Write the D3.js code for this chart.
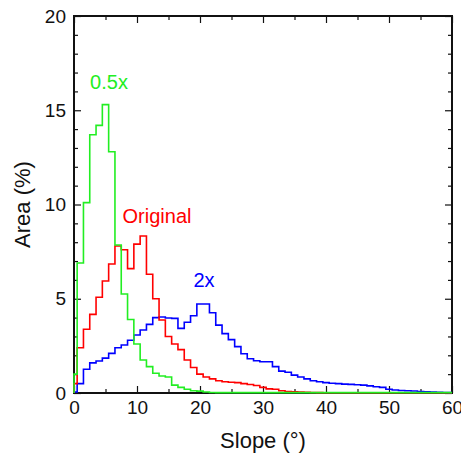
<!DOCTYPE html>
<html>
<head>
<meta charset="utf-8">
<script src="https://cdn.jsdelivr.net/npm/d3@7"></script>
<style>
  body { margin: 0; background: #fff; }
  svg text { font-family: "Liberation Sans", Arial, sans-serif; fill: #111; }
</style>
</head>
<body>
<div id="chart"></div>
<script>
// slope histogram, 1 degree bins centred on 0..60
const slopes = d3.range(0, 61);

const half = [1.0, 6.9, 10.1, 13.7, 14.2, 15.3, 12.8, 7.85, 5.25, 3.9,
  2.6, 1.75, 1.4, 1.05, 0.9, 0.85, 0.42, 0.3, 0.2, 0.12,
  0.1, 0.05, 0.03, 0.02, 0.02, 0.02, 0.02, 0.02, 0.02, 0.02,
  0.02, 0.02, 0.02, 0.02, 0.02, 0.02, 0.02, 0.02, 0.02, 0.02,
  0.02, 0.02, 0.02, 0.02, 0.02, 0.02, 0.02, 0.02, 0.02, 0.02,
  0.02, 0.02, 0.02, 0.02, 0.02, 0.02, 0.02, 0.02, 0.02, 0.02, 0.02];

const original = [0.5, 2.4, 3.38, 4.17, 5.08, 5.94, 6.84, 7.8, 7.6, 6.6,
  7.9, 8.33, 6.3, 5.0, 3.87, 3.0, 2.6, 2.3, 1.75, 1.35,
  1.0, 0.85, 0.75, 0.65, 0.6, 0.57, 0.55, 0.5, 0.45, 0.4,
  0.3, 0.22, 0.2, 0.12, 0.08, 0.06, 0.05, 0.04, 0.03, 0.02,
  0.01, 0.01, 0.01, 0.01, 0.01, 0.01, 0.01, 0.01, 0.01, 0.01,
  0.01, 0.01, 0.01, 0.01, 0.01, 0.01, 0.01, 0.01, 0.01, 0.01, 0.01];

const double = [0.05, 0.5, 1.26, 1.6, 1.7, 1.85, 2.1, 2.4, 2.55, 2.8,
  3.08, 3.34, 3.64, 4.0, 4.03, 3.98, 3.96, 3.43, 3.75, 4.1,
  4.72, 4.72, 4.26, 3.6, 3.15, 2.83, 2.46, 2.08, 1.82, 1.71,
  1.66, 1.66, 1.4, 1.16, 1.1, 0.95, 0.85, 0.75, 0.65, 0.6,
  0.55, 0.52, 0.5, 0.47, 0.46, 0.44, 0.42, 0.38, 0.33, 0.3,
  0.2, 0.16, 0.13, 0.12, 0.11, 0.08, 0.06, 0.05, 0.04, 0.03, 0.02];

const xTicks = [0, 10, 20, 30, 40, 50, 60];
const yTicks = [0, 5, 10, 15, 20];

const series = [
  { name: "2x", values: double, color: "#0000ff", lx: 204, ly: 287 },
  { name: "Original", values: original, color: "#ff0000", lx: 157, ly: 223 },
  { name: "0.5x", values: half, color: "#22ee22", lx: 109, ly: 89 }
];

const W = 461, H = 456;
const margin = { top: 16, right: 9, bottom: 63, left: 74 };
const width = W - margin.left - margin.right, height = H - margin.top - margin.bottom;

const svg = d3.select("#chart").append("svg")
  .attr("width", W).attr("height", H)
  .append("g")
  .attr("transform", `translate(${margin.left}, ${margin.top})`);

const x = d3.scaleLinear().domain([0, 60]).range([0, width]);
const y = d3.scaleLinear().domain([0, 20]).range([height, 0]);

// axes, ticks pointing inwards
function styleAxis(g) {
  g.select(".domain").remove();
  g.selectAll(".tick line").attr("stroke", "#111").attr("stroke-width", 1.2);
  g.selectAll(".tick text").style("font-size", "19px");
}

svg.append("g").attr("transform", `translate(0, ${height})`)
  .call(d3.axisBottom(x).tickValues(xTicks).tickSize(-7).tickPadding(8).tickFormat(d3.format("d")))
  .call(styleAxis);
svg.append("g").attr("transform", `translate(0, ${height})`)
  .call(d3.axisBottom(x).tickValues(d3.range(5, 60, 10)).tickSize(-4).tickFormat(""))
  .call(styleAxis);
svg.append("g")
  .call(d3.axisTop(x).tickValues(xTicks).tickSize(-7).tickFormat(""))
  .call(styleAxis);
svg.append("g")
  .call(d3.axisTop(x).tickValues(d3.range(5, 60, 10)).tickSize(-4).tickFormat(""))
  .call(styleAxis);

svg.append("g")
  .call(d3.axisLeft(y).tickValues(yTicks).tickSize(-7).tickPadding(8))
  .call(styleAxis);
svg.append("g")
  .call(d3.axisLeft(y).tickValues(d3.range(1, 20).filter(d => d % 5)).tickSize(-4).tickFormat(""))
  .call(styleAxis);
svg.append("g").attr("transform", `translate(${width}, 0)`)
  .call(d3.axisRight(y).tickValues(yTicks).tickSize(-7).tickFormat(""))
  .call(styleAxis);
svg.append("g").attr("transform", `translate(${width}, 0)`)
  .call(d3.axisRight(y).tickValues(d3.range(1, 20).filter(d => d % 5)).tickSize(-4).tickFormat(""))
  .call(styleAxis);

svg.append("rect")
  .attr("width", width).attr("height", height)
  .attr("fill", "none").attr("stroke", "#111").attr("stroke-width", 2);

// step outlines
const line = d3.line().x(d => x(d[0])).y(d => y(d[1])).curve(d3.curveStepAfter);

function steps(values) {
  const pts = [[0, 0]];
  values.forEach((v, i) => pts.push([Math.max(0, i - 0.5), v]));
  pts.push([60, values[values.length - 1]]);
  return pts;
}

svg.selectAll(".hist")
  .data(series)
  .enter()
  .append("path")
  .attr("class", "hist")
  .attr("d", d => line(steps(d.values)))
  .attr("fill", "none")
  .attr("stroke", d => d.color)
  .attr("stroke-width", 1.6);

svg.selectAll(".lbl")
  .data(series)
  .enter()
  .append("text")
  .attr("x", d => d.lx - margin.left)
  .attr("y", d => d.ly - margin.top)
  .attr("text-anchor", "middle")
  .style("font-size", "20px")
  .style("fill", d => d.color)
  .text(d => d.name);

svg.append("text")
  .attr("x", width / 2).attr("y", height + 55)
  .attr("text-anchor", "middle")
  .style("font-size", "22px")
  .text("Slope (°)");

svg.append("text")
  .attr("transform", `translate(${-44}, ${height / 2}) rotate(-90)`)
  .attr("text-anchor", "middle")
  .style("font-size", "22px")
  .text("Area (%)");
</script>
</body>
</html>
